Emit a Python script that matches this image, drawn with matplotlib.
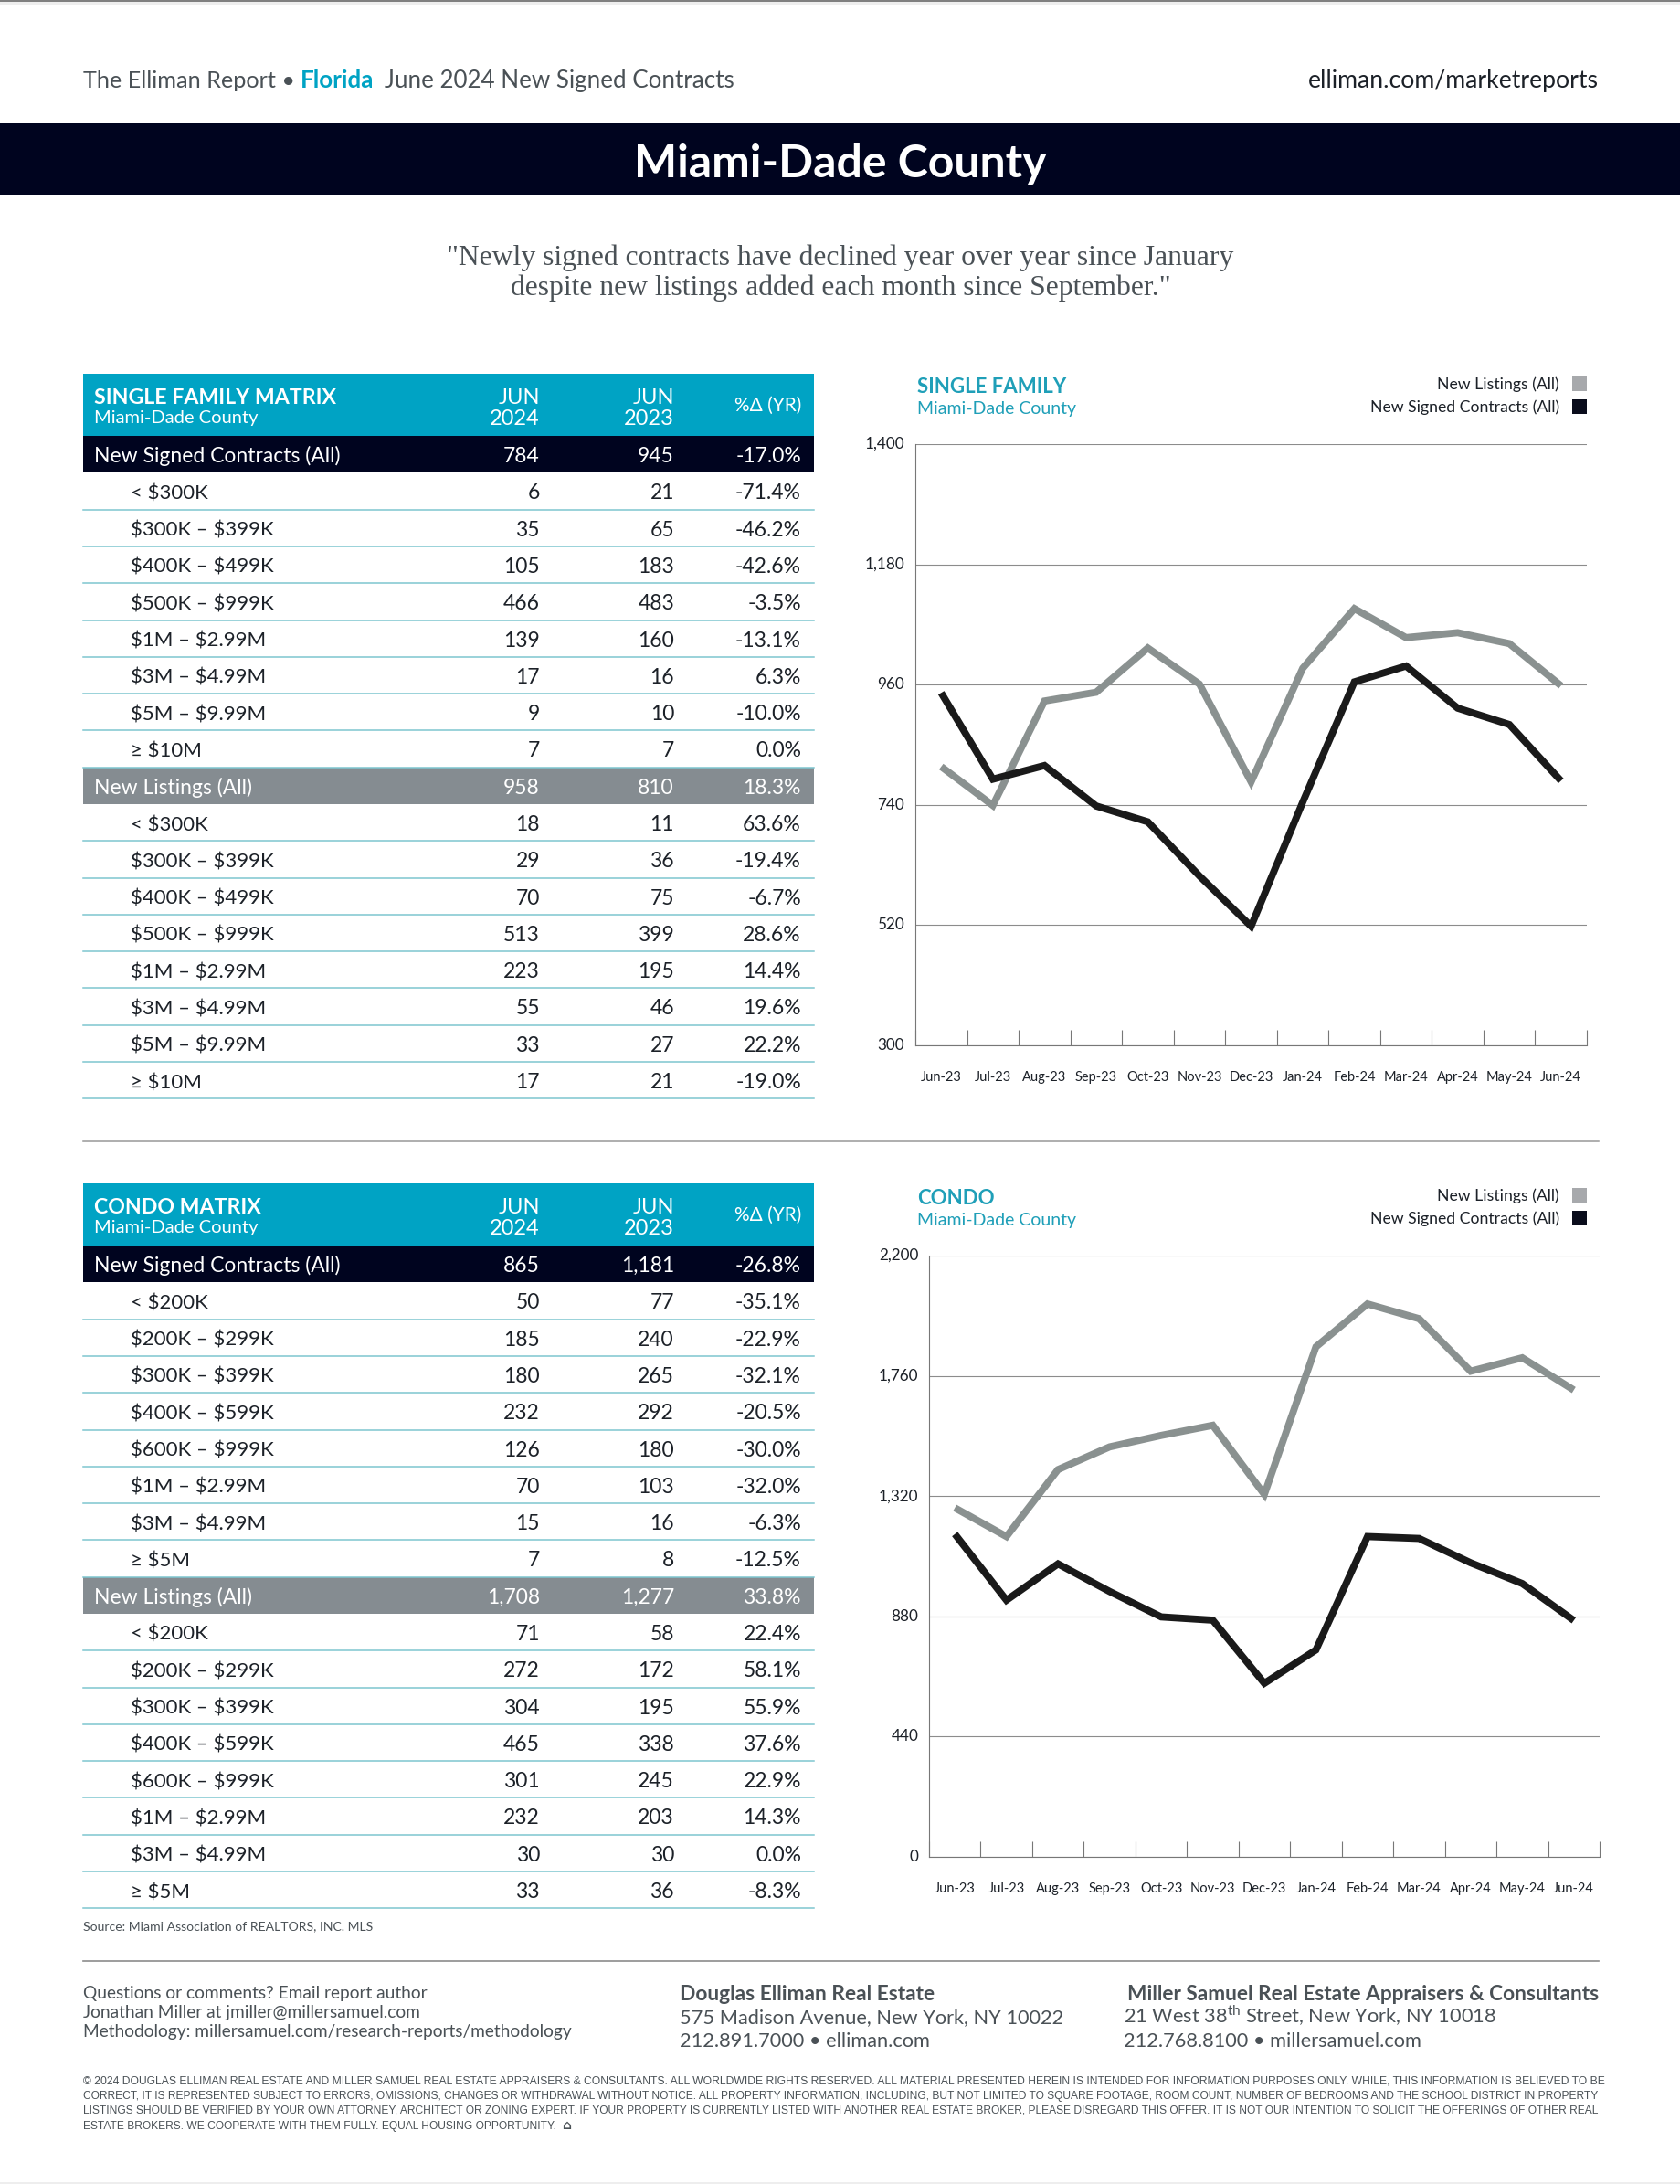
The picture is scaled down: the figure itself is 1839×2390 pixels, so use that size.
import matplotlib
matplotlib.use("Agg")
import matplotlib.pyplot as plt
from matplotlib.patches import Rectangle

plt.rcParams['font.family'] = ['Lato', 'DejaVu Sans']
plt.rcParams['mathtext.fontset'] = 'custom'
plt.rcParams['mathtext.rm'] = 'Lato'

# colours
navy = '#00041f'
teal = '#00a3c4'
teal_title = '#1f9fb8'
gray_row = '#858c91'
row_line = '#7fc6d0'
text_dark = '#1c2128'
text_gray = '#4a5156'
line_gray = '#8a9190'
line_black = '#1a1a1a'

months = ['Jun-23', 'Jul-23', 'Aug-23', 'Sep-23', 'Oct-23', 'Nov-23', 'Dec-23',
          'Jan-24', 'Feb-24', 'Mar-24', 'Apr-24', 'May-24', 'Jun-24']

# chart values
sf_listings = [810, 739, 930, 946, 1027, 961, 782, 990, 1099, 1046, 1055, 1035, 958]
sf_contracts = [945, 787, 812, 738, 709, 610, 518, 745, 965, 994, 917, 887, 784]
sf_yticks = [300, 520, 740, 960, 1180, 1400]
condo_listings = [1277, 1172, 1417, 1500, 1542, 1579, 1326, 1866, 2023, 1969, 1777, 1826, 1708]
condo_contracts = [1181, 939, 1072, 971, 878, 866, 635, 757, 1172, 1165, 1076, 1000, 865]
condo_yticks = [0, 440, 880, 1320, 1760, 2200]

# tables
sf_labels = ['< $300K', '$300K – $399K', '$400K – $499K', '$500K – $999K',
             '$1M – $2.99M', '$3M – $4.99M', '$5M – $9.99M', '≥ $10M']
sf_con_2024 = [784, 6, 35, 105, 466, 139, 17, 9, 7]
sf_con_2023 = [945, 21, 65, 183, 483, 160, 16, 10, 7]
sf_con_pct = [-17.0, -71.4, -46.2, -42.6, -3.5, -13.1, 6.3, -10.0, 0.0]
sf_lis_2024 = [958, 18, 29, 70, 513, 223, 55, 33, 17]
sf_lis_2023 = [810, 11, 36, 75, 399, 195, 46, 27, 21]
sf_lis_pct = [18.3, 63.6, -19.4, -6.7, 28.6, 14.4, 19.6, 22.2, -19.0]

condo_labels = ['< $200K', '$200K – $299K', '$300K – $399K', '$400K – $599K',
                '$600K – $999K', '$1M – $2.99M', '$3M – $4.99M', '≥ $5M']
condo_con_2024 = [865, 50, 185, 180, 232, 126, 70, 15, 7]
condo_con_2023 = [1181, 77, 240, 265, 292, 180, 103, 16, 8]
condo_con_pct = [-26.8, -35.1, -22.9, -32.1, -20.5, -30.0, -32.0, -6.3, -12.5]
condo_lis_2024 = [1708, 71, 272, 304, 465, 301, 232, 30, 33]
condo_lis_2023 = [1277, 58, 172, 195, 338, 245, 203, 30, 36]
condo_lis_pct = [33.8, 22.4, 58.1, 55.9, 37.6, 22.9, 14.3, 0.0, -8.3]

legal_lines = [
    '© 2024 DOUGLAS ELLIMAN REAL ESTATE AND MILLER SAMUEL REAL ESTATE APPRAISERS & CONSULTANTS. ALL WORLDWIDE RIGHTS RESERVED. ALL MATERIAL PRESENTED HEREIN IS INTENDED FOR INFORMATION PURPOSES ONLY. WHILE, THIS INFORMATION IS BELIEVED TO BE',
    'CORRECT, IT IS REPRESENTED SUBJECT TO ERRORS, OMISSIONS, CHANGES OR WITHDRAWAL WITHOUT NOTICE. ALL PROPERTY INFORMATION, INCLUDING, BUT NOT LIMITED TO SQUARE FOOTAGE, ROOM COUNT, NUMBER OF BEDROOMS AND THE SCHOOL DISTRICT IN PROPERTY',
    'LISTINGS SHOULD BE VERIFIED BY YOUR OWN ATTORNEY, ARCHITECT OR ZONING EXPERT. IF YOUR PROPERTY IS CURRENTLY LISTED WITH ANOTHER REAL ESTATE BROKER, PLEASE DISREGARD THIS OFFER. IT IS NOT OUR INTENTION TO SOLICIT THE OFFERINGS OF OTHER REAL',
    'ESTATE BROKERS. WE COOPERATE WITH THEM FULLY. EQUAL HOUSING OPPORTUNITY.',
]

W, H = 1840, 2390
fig = plt.figure(figsize=(W / 100, H / 100), dpi=100, facecolor='white')

# whole page in pixel coordinates, for the text blocks and bands
page = fig.add_axes([0, 0, 1, 1])
page.set_xlim(0, W)
page.set_ylim(H, 0)
page.axis('off')


def txt(x, y, s, size, color=text_dark, ha='left', **kw):
    return page.text(x, y, s, fontsize=size, color=color, ha=ha, va='baseline', parse_math=False, **kw)


def band(x0, y0, x1, y1, color):
    page.add_patch(Rectangle((x0, y0), x1 - x0, y1 - y0, facecolor=color, edgecolor='none'))


def fmt_pct(v):
    return f'{v:.1f}%'


def draw_table(top, title, labels, con, lis):
    left, right = 91, 891
    col1, col2, col3 = 591, 738, 877
    band(left, top, right, top + 68, teal)
    txt(103, top + 33, title, 16.7, 'white', weight='bold')
    txt(103, top + 54, 'Miami-Dade County', 14.5, 'white')
    for xc, yr in [(col1, '2024'), (col2, '2023')]:
        txt(xc, top + 33, 'JUN', 17, 'white', ha='right')
        txt(xc, top + 56, yr, 17, 'white', ha='right')
    txt(col3, top + 41, '%Δ (YR)', 15, 'white', ha='right')
    y = top + 68
    row_h = 40.3
    for name, vals, color in [('New Signed Contracts (All)', con, navy),
                              ('New Listings (All)', lis, gray_row)]:
        v24, v23, pct = vals
        for i in range(len(v24)):
            if i == 0:
                band(left, y, right, y + row_h, color)
                txt(103, y + 29, name, 16.5, 'white')
                c = 'white'
            else:
                txt(143, y + 29, labels[i - 1], 16, text_dark)
                c = text_dark
                page.plot([left, right], [y + row_h, y + row_h], color=row_line, lw=1.1)
            txt(col1, y + 29, f'{v24[i]:,}', 16.5, c, ha='right')
            txt(col2, y + 29, f'{v23[i]:,}', 16.5, c, ha='right')
            txt(col3, y + 29, fmt_pct(pct[i]), 16.5, c, ha='right')
            y += row_h


def draw_chart(x0, x1, y_top, y_bot, yticks, listings, contracts, title, title_y, legend_y):
    ax = fig.add_axes([x0 / W, 1 - y_bot / H, (x1 - x0) / W, (y_bot - y_top) / H])
    xs = list(range(len(months)))
    ax.plot(xs, listings, color=line_gray, lw=5.6, solid_capstyle='butt', solid_joinstyle='miter')
    ax.plot(xs, contracts, color=line_black, lw=5.6, solid_capstyle='butt', solid_joinstyle='miter')
    ax.set_xlim(-0.5, len(months) - 0.5)
    ax.set_ylim(yticks[0], yticks[-1])
    ax.set_yticks(yticks)
    ax.set_yticklabels([f'{v:,}' for v in yticks], fontsize=12.3, color=text_dark, va='bottom')
    ax.set_xticks(xs)
    ax.set_xticklabels(months, fontsize=10.5, color=text_dark)
    ax.set_xticks([i - 0.5 for i in range(len(months) + 1)], minor=True)
    ax.tick_params(axis='x', which='major', length=0, pad=20)
    ax.tick_params(axis='x', which='minor', length=12, width=0.8, direction='in', color='#777777')
    ax.tick_params(axis='y', length=0, pad=8.5)
    for lab in ax.get_yticklabels():
        lab.set_verticalalignment('center')
    ax.grid(axis='y', color='#8c8c8c', lw=0.8)
    ax.set_axisbelow(True)
    ax.patch.set_alpha(0)
    for s in ['top', 'right']:
        ax.spines[s].set_visible(False)
    for s in ['left', 'bottom']:
        ax.spines[s].set_color('#777777')
        ax.spines[s].set_linewidth(0.8)
    # chart heading and key
    txt(1004, title_y, title, 16, teal_title, weight='bold')
    txt(1004, title_y + 23, 'Miami-Dade County', 14, teal_title)
    txt(1707, legend_y, 'New Listings (All)', 12.7, text_dark, ha='right')
    txt(1707, legend_y + 25, 'New Signed Contracts (All)', 12.7, text_dark, ha='right')
    band(1721, legend_y - 14, 1737, legend_y + 2, '#a7a9ac')
    band(1721, legend_y + 11, 1737, legend_y + 27, '#0a0d1c')


# top of page
band(0, 0, W, 2, '#808080')
band(0, 2, W, 6, '#eeeeee')
band(0, 135, W, 213, navy)
txt(91, 96, 'The Elliman Report •', 18.2, text_gray)
txt(329, 96, 'Florida', 18.7, teal, weight='bold')
txt(421, 96, 'June 2024 New Signed Contracts', 18.7, text_gray)
txt(1750, 96, 'elliman.com/marketreports', 19.2, text_dark, ha='right')
txt(920, 194, 'Miami-Dade County', 36, 'white', ha='center', weight='bold')
txt(920, 290, '"Newly signed contracts have declined year over year since January', 22.8,
    text_gray, ha='center', family='Liberation Serif')
txt(920, 323, 'despite new listings added each month since September."', 22.8,
    text_gray, ha='center', family='Liberation Serif')

draw_table(409, 'SINGLE FAMILY MATRIX', sf_labels,
           (sf_con_2024, sf_con_2023, sf_con_pct), (sf_lis_2024, sf_lis_2023, sf_lis_pct))
draw_table(1295, 'CONDO MATRIX', condo_labels,
           (condo_con_2024, condo_con_2023, condo_con_pct), (condo_lis_2024, condo_lis_2023, condo_lis_pct))
page.plot([91, 1750], [1248.5, 1248.5], color='#999999', lw=1.1)

draw_chart(1002, 1737, 486, 1144, sf_yticks, sf_listings, sf_contracts, 'SINGLE FAMILY', 430, 426)
draw_chart(1017, 1751, 1374, 2032, condo_yticks, condo_listings, condo_contracts, 'CONDO', 1318, 1314)

# footer
txt(91, 2112, 'Source: Miami Association of REALTORS, INC. MLS', 10.1, text_gray)
page.plot([91, 1750], [2146, 2146], color='#8c8c8c', lw=1.2)
for y, s in zip([2187, 2208, 2229], ['Questions or comments? Email report author',
                                     'Jonathan Miller at jmiller@millersamuel.com',
                                     'Methodology: millersamuel.com/research-reports/methodology']):
    txt(91, y, s, 13.75, text_gray)
txt(744, 2189, 'Douglas Elliman Real Estate', 16.4, text_gray, weight='bold')
txt(744, 2214, '575 Madison Avenue, New York, NY 10022', 15.7, text_gray)
txt(744, 2240, '212.891.7000 • elliman.com', 15.7, text_gray)
txt(1750, 2189, 'Miller Samuel Real Estate Appraisers & Consultants', 16.3, text_gray, ha='right', weight='bold')
page.text(1230, 2214, r'21 West 38$^{\mathrm{th}}$ Street, New York, NY 10018', fontsize=15.7,
          color=text_gray, va='baseline')
txt(1230, 2240, '212.768.8100 • millersamuel.com', 15.7, text_gray)

# legal text: no narrow face is installed, so size each full line to the column width
renderer = fig.canvas.get_renderer()
legal_size = 8.0
for y, s in zip([2281, 2297, 2313, 2330], legal_lines):
    t = txt(91, y, s, legal_size, text_gray, family='Liberation Sans')
    if s is not legal_lines[-1]:
        legal_size = legal_size * 1659 / t.get_window_extent(renderer).width
        t.set_fontsize(legal_size)
    else:
        end_x = t.get_window_extent(renderer).x1
txt(end_x + 6, 2330, '⌂', 10, text_gray, family='DejaVu Sans', weight='bold')
band(0, 2388, W, 2390, '#eeeeee')

fig.savefig('out.png', dpi=100)
